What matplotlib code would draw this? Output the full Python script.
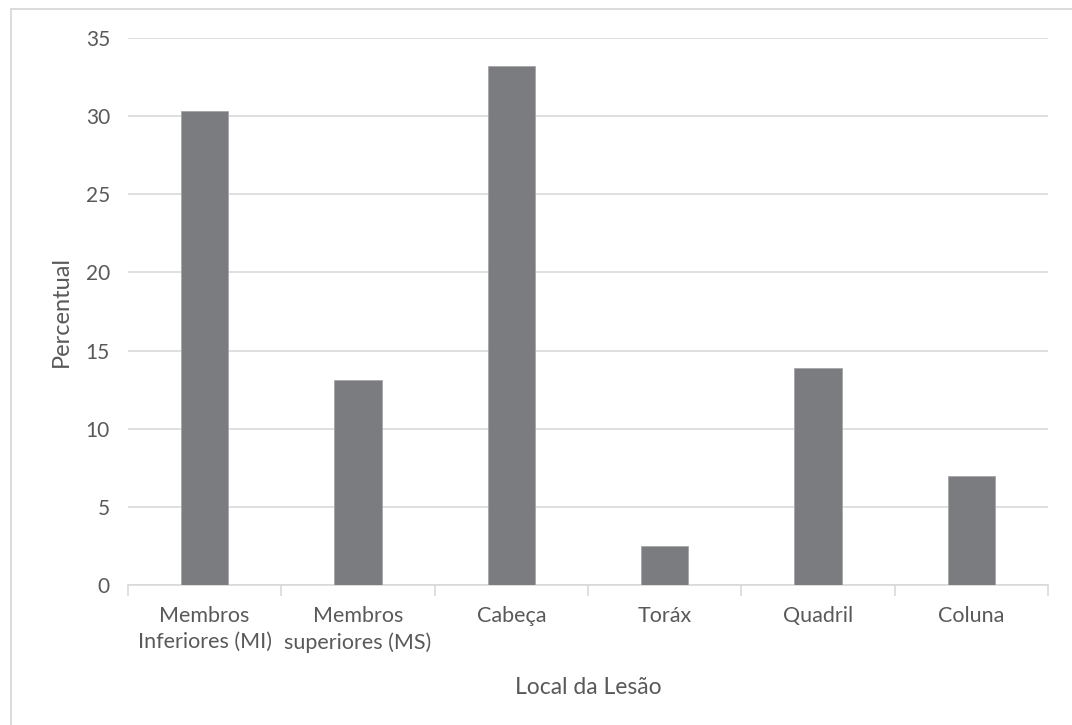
import matplotlib
matplotlib.use("Agg")
import matplotlib.pyplot as plt
from matplotlib.lines import Line2D

categories = ["Membros\nInferiores (MI)", "Membros\nsuperiores (MS)", "Cabeça",
              "Toráx", "Quadril", "Coluna"]
percentual = [30.3, 13.1, 33.2, 2.5, 13.9, 7.0]
y_ticks = [0, 5, 10, 15, 20, 25, 30, 35]

plt.rcParams["font.family"] = ["Lato", "DejaVu Sans"]
text_color = "#595959"
grid_color = "#d9d9d9"
bar_color = "#7b7c80"

W, H = 1072, 725
fig = plt.figure(figsize=(W / 100, H / 100), dpi=100)
ax = fig.add_axes([128 / W, 1 - 585 / H, (1048 - 128) / W, (585 - 38) / H])

x = list(range(len(categories)))
ax.bar(x, percentual, width=0.31, color=bar_color, edgecolor="#a6a6a8",
       linewidth=0.6, zorder=3)

ax.set_xlim(-0.5, len(categories) - 0.5)
ax.set_ylim(0, 35)
ax.set_yticks(y_ticks)
ax.set_yticklabels([str(v) for v in y_ticks], fontsize=15, color=text_color)
ax.yaxis.grid(True, color=grid_color, linewidth=1.2, zorder=0)
ax.tick_params(axis="y", length=0, pad=13)

# category labels centred between boundary tick marks
ax.set_xticks(x)
ax.set_xticklabels(categories, fontsize=15.5, color=text_color, linespacing=1.4)
ax.tick_params(axis="x", length=0, pad=15)
ax.set_xticks([i - 0.5 for i in range(len(categories) + 1)], minor=True)
ax.tick_params(axis="x", which="minor", length=8, width=1.2, color=grid_color)

for side in ("top", "right", "left"):
    ax.spines[side].set_visible(False)
ax.spines["bottom"].set_color(grid_color)
ax.spines["bottom"].set_linewidth(1.2)

ax.set_xlabel("Local da Lesão", fontsize=16.5, color=text_color, labelpad=17)
ax.set_ylabel("Percentual", fontsize=17, color=text_color, labelpad=10)

# chart frame
fig.add_artist(Line2D([11 / W, 11 / W], [0, 1 - 9 / H], color="#d9d9d9",
                      linewidth=1.3, transform=fig.transFigure))
fig.add_artist(Line2D([11 / W, 1], [1 - 9 / H, 1 - 9 / H], color="#d9d9d9",
                      linewidth=1.3, transform=fig.transFigure))

fig.savefig("out.png", dpi=100, facecolor="white")
